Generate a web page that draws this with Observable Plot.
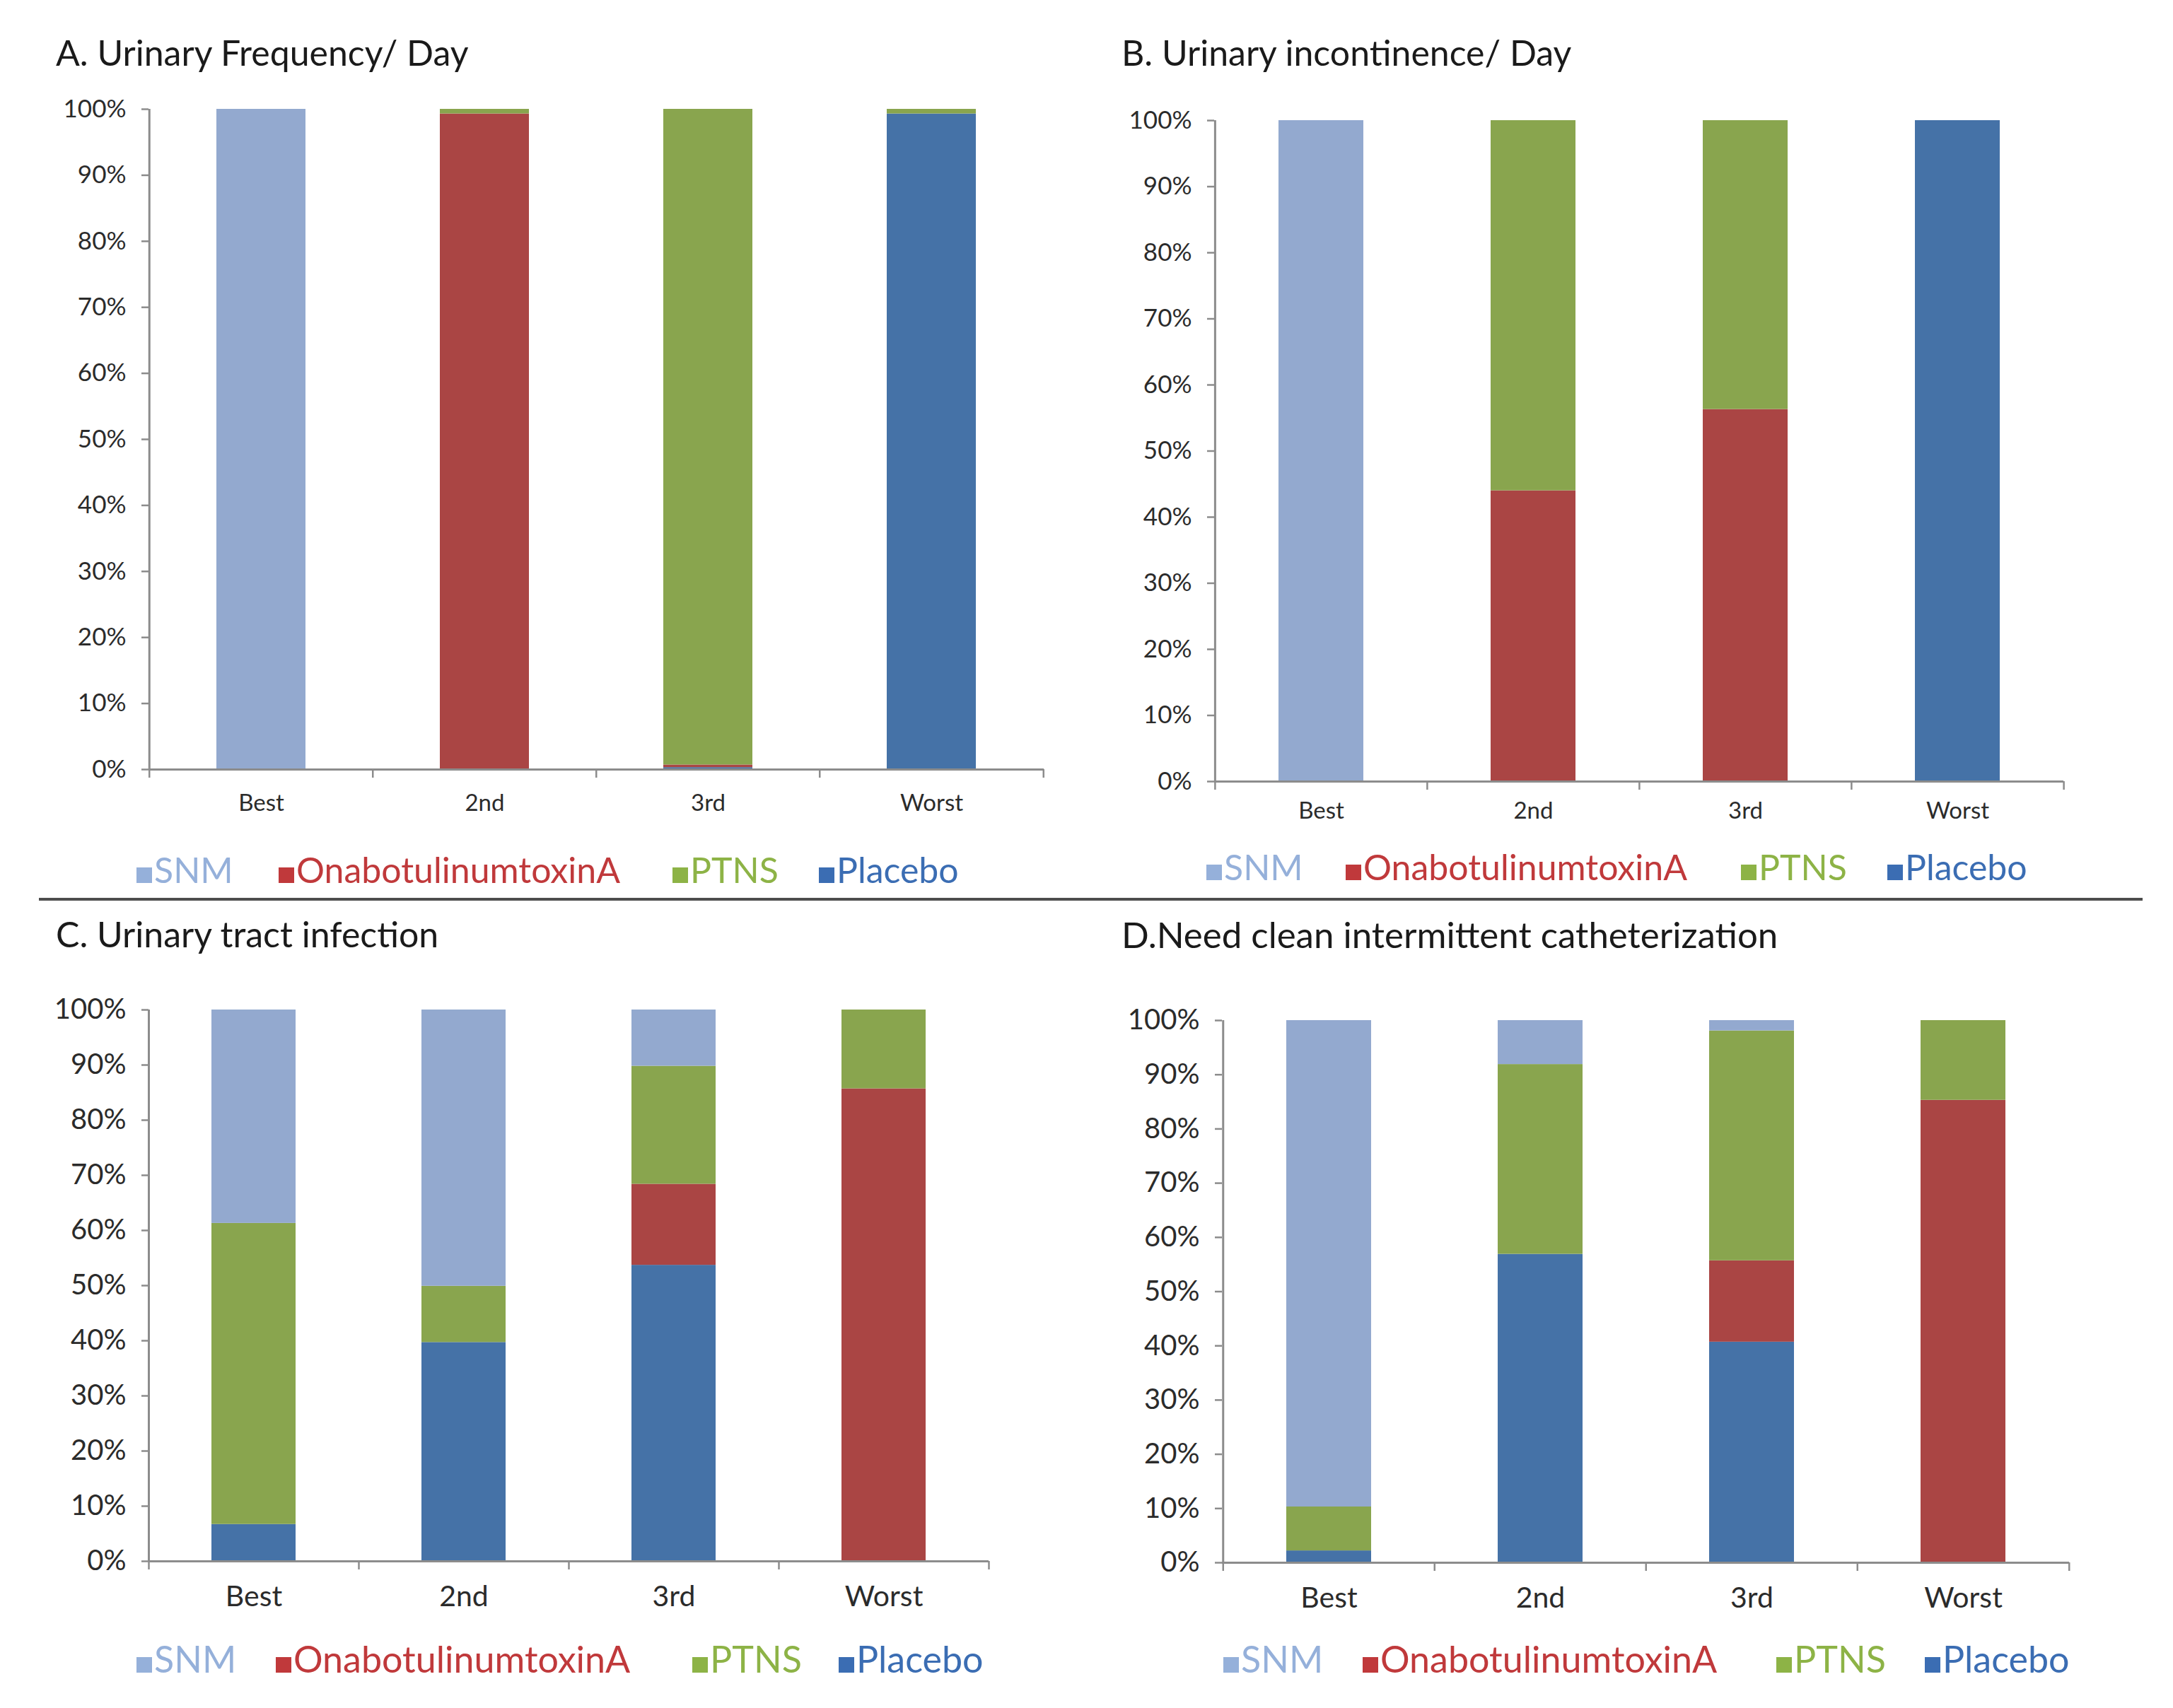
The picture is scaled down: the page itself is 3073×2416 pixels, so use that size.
<!DOCTYPE html>
<html><head><meta charset="utf-8">
<script src="https://cdn.jsdelivr.net/npm/d3@7"></script>
<script src="https://cdn.jsdelivr.net/npm/@observablehq/plot@0.6"></script>
<style>
body{margin:0;background:#fff;}
#root{position:relative;width:3073px;height:2416px;background:#fff;font-family:Lato,"Open Sans",sans-serif;overflow:hidden}
.title{position:absolute;color:#1a1a1a;white-space:nowrap;line-height:1}
.leg{position:absolute;white-space:nowrap;line-height:1}
.sw{display:inline-block;width:22px;height:22px;margin-right:3px;vertical-align:baseline}
.panel{position:absolute}
.divider{position:absolute;background:#4d4d4d}
</style></head><body><div id="root"></div>
<script>
// ---- data ----
const categories = ["Best", "2nd", "3rd", "Worst"];
const series = ["Placebo", "OnabotulinumtoxinA", "PTNS", "SNM"]; // stacking order, bottom to top
const legendOrder = ["SNM", "OnabotulinumtoxinA", "PTNS", "Placebo"];
const yTicks = [0, 10, 20, 30, 40, 50, 60, 70, 80, 90, 100];

const titleA = "A. Urinary Frequency/ Day";
const titleB = "B. Urinary incontinence/ Day";
const titleC = "C. Urinary tract infection";
const titleD = "D.Need clean intermittent catheterization";

// panel A (percent of each rank)
const A_Placebo = [0, 0, 0.3, 99.3];
const A_Onabot  = [0, 99.3, 0.4, 0];
const A_PTNS    = [0, 0.7, 99.3, 0.7];
const A_SNM     = [100, 0, 0, 0];
// panel B
const B_Placebo = [0, 0, 0, 100];
const B_Onabot  = [0, 44, 56.3, 0];
const B_PTNS    = [0, 56, 43.7, 0];
const B_SNM     = [100, 0, 0, 0];
// panel C
const C_Placebo = [6.7, 39.7, 53.7, 0];
const C_Onabot  = [0, 0, 14.7, 85.7];
const C_PTNS    = [54.6, 10.2, 21.4, 14.3];
const C_SNM     = [38.7, 50.1, 10.2, 0];
// panel D
const D_Placebo = [2.2, 56.9, 40.7, 0];
const D_Onabot  = [0, 0, 15, 85.3];
const D_PTNS    = [8.1, 35, 42.4, 14.7];
const D_SNM     = [89.7, 8.1, 1.9, 0];

// ---- styles ----
const fills = {SNM: "#93a9cf", OnabotulinumtoxinA: "#aa4544", PTNS: "#89a54e", Placebo: "#4572a7"};
const legendColors = {SNM: "#95b0da", OnabotulinumtoxinA: "#c0393b", PTNS: "#8db346", Placebo: "#3b6db3"};
const axisGray = "#8c8c8c";

const panels = [
  {title: titleA, vals: {Placebo: A_Placebo, OnabotulinumtoxinA: A_Onabot, PTNS: A_PTNS, SNM: A_SNM},
   axisX: 210, top: 154, bottom: 1088, right: 1476, tickFont: 35, catFont: 33, catCenter: 1135,
   titleX: 79, titleTop: 49, titleFont: 50, legTop: 1205, legFont: 50, legX: [193, 394, 951, 1158]},
  {title: titleB, vals: {Placebo: B_Placebo, OnabotulinumtoxinA: B_Onabot, PTNS: B_PTNS, SNM: B_SNM},
   axisX: 1717, top: 170, bottom: 1105, right: 2918, tickFont: 35, catFont: 33, catCenter: 1146,
   titleX: 1586, titleTop: 49, titleFont: 50, legTop: 1201, legFont: 50, legX: [1706, 1903, 2462, 2669]},
  {title: titleC, vals: {Placebo: C_Placebo, OnabotulinumtoxinA: C_Onabot, PTNS: C_PTNS, SNM: C_SNM},
   axisX: 210, top: 1428, bottom: 2208, right: 1398, tickFont: 40, catFont: 41, catCenter: 2257,
   titleX: 79, titleTop: 1296, titleFont: 50, legTop: 2320, legFont: 52, legX: [193, 390, 979, 1186]},
  {title: titleD, vals: {Placebo: D_Placebo, OnabotulinumtoxinA: D_Onabot, PTNS: D_PTNS, SNM: D_SNM},
   axisX: 1728, top: 1443, bottom: 2210, right: 2926, tickFont: 40, catFont: 41, catCenter: 2259,
   titleX: 1586, titleTop: 1296, titleFont: 51, legTop: 2320, legFont: 52, legX: [1730, 1927, 2512, 2722]}
];

const root = document.getElementById("root");

function addDiv(cls, css, html) {
  const d = document.createElement("div");
  d.className = cls;
  Object.assign(d.style, css);
  if (html != null) d.innerHTML = html;
  root.appendChild(d);
  return d;
}

for (const p of panels) {
  const mL = 140, mR = 40, mT = 30, mB = 110;
  const svgLeft = p.axisX - mL, svgTop = p.top - mT;
  const width = p.right - p.axisX + mL + mR;
  const height = p.bottom - p.top + mT + mB;
  const step = (width - mL - mR) / categories.length;

  const rows = [];
  for (const s of series) categories.forEach((c, i) => rows.push({cat: c, series: s, value: p.vals[s][i]}));

  const last = categories[categories.length - 1];
  const chart = Plot.plot({
    width, height,
    marginLeft: mL, marginRight: mR, marginTop: mT, marginBottom: mB,
    style: {fontFamily: "Lato, 'Open Sans', sans-serif", background: "transparent", overflow: "visible"},
    x: {domain: categories, paddingInner: 0.6, paddingOuter: 0.3, label: null},
    y: {domain: [0, 100], label: null},
    color: {domain: series, range: series.map(s => fills[s])},
    marks: [
      Plot.barY(rows, {x: "cat", y: "value", fill: "series", order: series}),
      // y axis line
      Plot.ruleX([categories[0]], {x: d => d, dx: -step / 2, y1: 0, y2: 100, stroke: axisGray, strokeWidth: 3}),
      // x axis line
      Plot.ruleY([0], {stroke: axisGray, strokeWidth: 3}),
      // category boundary ticks
      Plot.ruleX(categories, {x: d => d, dx: -step / 2, y1: 0, y2: 0, insetBottom: -12, stroke: axisGray, strokeWidth: 2.5}),
      Plot.ruleX([last], {x: d => d, dx: step / 2, y1: 0, y2: 0, insetBottom: -12, stroke: axisGray, strokeWidth: 2.5}),
      Plot.axisY({ticks: yTicks, tickFormat: d => d + "%", tickSize: 10, tickPadding: 22,
                  fontSize: p.tickFont, stroke: axisGray, strokeWidth: 2.5, fill: "#2b2b2b"}),
      Plot.axisX({tickSize: 0, tickPadding: (p.catCenter - p.bottom) - p.catFont * 0.36,
                  fontSize: p.catFont, fill: "#2b2b2b"})
    ]
  });
  const wrap = addDiv("panel", {left: svgLeft + "px", top: svgTop + "px"});
  wrap.appendChild(chart);

  addDiv("title", {left: p.titleX + "px", top: p.titleTop + "px", fontSize: p.titleFont + "px"}, p.title);

  legendOrder.forEach((s, i) => {
    addDiv("leg", {left: p.legX[i] + "px", top: p.legTop + "px", fontSize: p.legFont + "px", color: legendColors[s]},
      `<span class="sw" style="background:${legendColors[s]}"></span>${s}`);
  });
}

addDiv("divider", {left: "55px", top: "1270px", width: "2975px", height: "4px"});
</script>
</body></html>
